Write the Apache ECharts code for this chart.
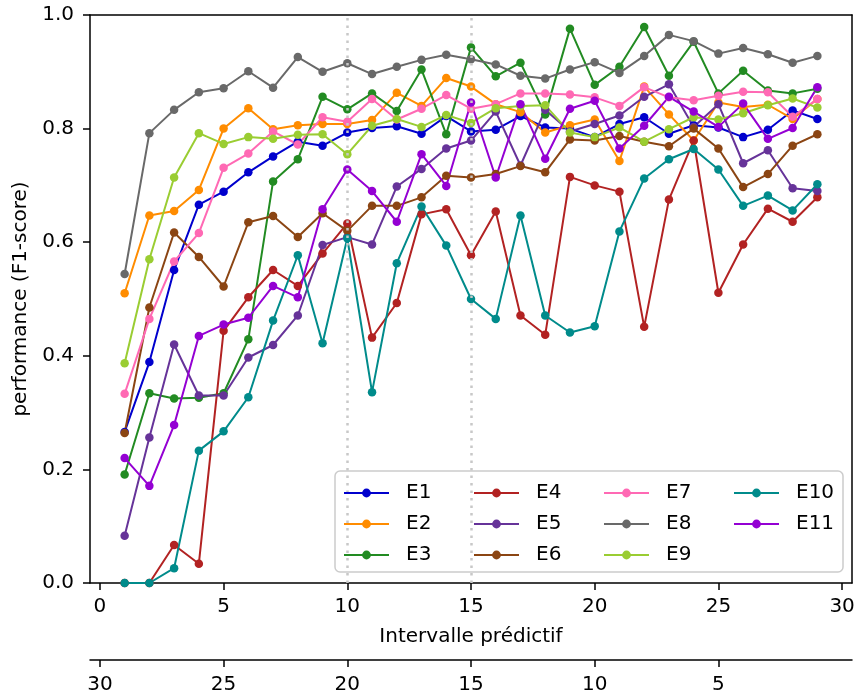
<!DOCTYPE html>
<html>
<head>
<meta charset="utf-8">
<script src="https://cdn.jsdelivr.net/npm/echarts@6/dist/echarts.min.js"></script>
<style>
  html, body { margin: 0; padding: 0; background: #fff; }
  #chart { width: 858px; height: 695px; }
</style>
</head>
<body>
<div id="chart"></div>
<script>
// Prediction interval (x) and F1-score per experiment
const intervals = [1, 2, 3, 4, 5, 6, 7, 8, 9, 10, 11, 12, 13, 14, 15, 16, 17, 18, 19, 20, 21, 22, 23, 24, 25, 26, 27, 28, 29];

const E1 = [0.266, 0.389, 0.551, 0.666, 0.689, 0.723, 0.751, 0.777, 0.770, 0.793, 0.801, 0.804, 0.791, 0.822, 0.795, 0.798, 0.822, 0.802, 0.800, 0.785, 0.808, 0.820, 0.791, 0.806, 0.802, 0.785, 0.798, 0.832, 0.817];
const E2 = [0.510, 0.647, 0.655, 0.692, 0.800, 0.836, 0.799, 0.806, 0.808, 0.808, 0.815, 0.863, 0.840, 0.889, 0.874, 0.843, 0.829, 0.793, 0.806, 0.816, 0.743, 0.874, 0.825, 0.779, 0.846, 0.838, 0.842, 0.817, 0.852];
const E3 = [0.191, 0.334, 0.325, 0.326, 0.334, 0.429, 0.707, 0.746, 0.856, 0.834, 0.862, 0.831, 0.904, 0.790, 0.943, 0.892, 0.916, 0.825, 0.976, 0.877, 0.909, 0.979, 0.893, 0.953, 0.862, 0.902, 0.867, 0.862, 0.870];
const E4 = [0.000, 0.000, 0.067, 0.034, 0.444, 0.503, 0.551, 0.523, 0.580, 0.633, 0.432, 0.493, 0.649, 0.658, 0.577, 0.654, 0.471, 0.437, 0.715, 0.700, 0.689, 0.451, 0.675, 0.779, 0.511, 0.596, 0.659, 0.636, 0.679];
const E5 = [0.083, 0.256, 0.420, 0.330, 0.330, 0.397, 0.419, 0.471, 0.595, 0.609, 0.596, 0.698, 0.729, 0.765, 0.779, 0.830, 0.735, 0.833, 0.795, 0.808, 0.823, 0.856, 0.878, 0.803, 0.843, 0.739, 0.762, 0.695, 0.690];
const E6 = [0.264, 0.485, 0.617, 0.574, 0.522, 0.635, 0.646, 0.609, 0.651, 0.620, 0.664, 0.664, 0.679, 0.717, 0.714, 0.720, 0.734, 0.723, 0.781, 0.779, 0.787, 0.777, 0.769, 0.800, 0.765, 0.697, 0.720, 0.770, 0.790];
const E7 = [0.333, 0.465, 0.566, 0.616, 0.731, 0.756, 0.795, 0.772, 0.820, 0.812, 0.852, 0.816, 0.835, 0.859, 0.835, 0.843, 0.862, 0.862, 0.860, 0.855, 0.840, 0.873, 0.855, 0.850, 0.858, 0.865, 0.864, 0.821, 0.852];
const E8 = [0.544, 0.792, 0.833, 0.864, 0.871, 0.901, 0.872, 0.926, 0.900, 0.915, 0.896, 0.909, 0.921, 0.930, 0.922, 0.913, 0.893, 0.888, 0.904, 0.917, 0.898, 0.928, 0.965, 0.954, 0.932, 0.942, 0.931, 0.916, 0.928];
const E9 = [0.387, 0.570, 0.714, 0.792, 0.773, 0.785, 0.782, 0.789, 0.790, 0.755, 0.805, 0.817, 0.803, 0.824, 0.810, 0.836, 0.840, 0.841, 0.793, 0.785, 0.802, 0.777, 0.799, 0.820, 0.816, 0.827, 0.841, 0.853, 0.837];
const E10 = [0.000, 0.000, 0.026, 0.233, 0.267, 0.327, 0.462, 0.577, 0.422, 0.607, 0.336, 0.563, 0.663, 0.594, 0.500, 0.465, 0.647, 0.471, 0.441, 0.452, 0.619, 0.712, 0.746, 0.764, 0.728, 0.664, 0.682, 0.656, 0.702];
const E11 = [0.220, 0.171, 0.278, 0.435, 0.455, 0.467, 0.523, 0.503, 0.658, 0.728, 0.690, 0.636, 0.755, 0.699, 0.846, 0.714, 0.843, 0.747, 0.835, 0.849, 0.765, 0.805, 0.856, 0.830, 0.803, 0.844, 0.782, 0.801, 0.873];

const seriesNames = ['E1', 'E2', 'E3', 'E4', 'E5', 'E6', 'E7', 'E8', 'E9', 'E10', 'E11'];
const seriesValues = [E1, E2, E3, E4, E5, E6, E7, E8, E9, E10, E11];
const seriesColors = ['#0000cd', '#ff8c00', '#228b22', '#b22222', '#663399', '#8b4513',
                      '#ff69b4', '#696969', '#9acd32', '#008b8b', '#9400d3'];

// Tick labels: lower axis shows interval, second axis shows remaining horizon
const xTicks = [0, 5, 10, 15, 20, 25, 30];
const horizonTicks = [0, 5, 10, 15, 20, 25];
const horizonTotal = 30;
const markedIntervals = [10, 15];
const legendColumns = [['E1', 'E2', 'E3'], ['E4', 'E5', 'E6'], ['E7', 'E8', 'E9'], ['E10', 'E11']];

const FONT = 'DejaVu Sans';
const FS = 20;
const black = '#000000';

const lineSeries = seriesNames.map((name, i) => ({
  name: name,
  type: 'line',
  xAxisIndex: 0,
  yAxisIndex: 0,
  data: intervals.map((x, k) => [x, seriesValues[i][k]]),
  symbol: 'circle',
  symbolSize: 8.5,
  showSymbol: true,
  color: seriesColors[i],
  lineStyle: { width: 2, color: seriesColors[i] },
  itemStyle: { color: seriesColors[i] },
  emphasis: { disabled: true },
  z: 2
}));

// Dotted reference lines drawn above the curves
lineSeries.push({
  name: 'ref',
  type: 'line',
  data: [],
  z: 3,
  silent: true,
  markLine: {
    symbol: 'none',
    silent: true,
    animation: false,
    label: { show: false },
    lineStyle: { color: '#c8c8c8', type: [2.5, 5], width: 2.5 },
    emphasis: { disabled: true },
    data: markedIntervals.map(v => ({ xAxis: v }))
  }
});

const legendBase = {
  orient: 'vertical',
  padding: 0,
  itemWidth: 45,
  itemHeight: 11,
  itemGap: 11,
  z: 6,
  selectedMode: false,
  textStyle: { fontFamily: FONT, fontSize: FS, color: black, lineHeight: 20, padding: [0, 0, 0, 12] }
};
const legendLefts = [343, 473, 603, 733];

const axisLineStyle = { color: black, width: 1.5 };

const option = {
  animation: false,
  backgroundColor: '#ffffff',
  grid: { left: 90, right: 6, top: 15, bottom: 112, containLabel: false },
  xAxis: [
    {
      type: 'value', position: 'bottom', min: -0.4, max: 30.4,
      axisLine: { show: true, onZero: false, lineStyle: axisLineStyle },
      axisTick: { show: true, length: 7, lineStyle: axisLineStyle, customValues: xTicks },
      axisLabel: { show: true, customValues: xTicks, fontFamily: FONT, fontSize: FS, color: black, margin: 14 },
      splitLine: { show: false },
      name: 'Intervalle prédictif', nameLocation: 'middle', nameGap: 44,
      nameTextStyle: { fontFamily: FONT, fontSize: FS, color: black }
    },
    {
      type: 'value', position: 'bottom', offset: 77, min: -0.4, max: 30.4,
      axisLine: { show: true, onZero: false, lineStyle: axisLineStyle },
      axisTick: { show: true, length: 7, lineStyle: axisLineStyle, customValues: horizonTicks },
      axisLabel: {
        show: true, customValues: horizonTicks, fontFamily: FONT, fontSize: FS, color: black, margin: 15,
        formatter: v => String(horizonTotal - v)
      },
      splitLine: { show: false }
    },
    {
      type: 'value', position: 'top', min: -0.4, max: 30.4,
      axisLine: { show: true, onZero: false, lineStyle: axisLineStyle },
      axisTick: { show: false }, axisLabel: { show: false }, splitLine: { show: false }
    }
  ],
  yAxis: [
    {
      type: 'value', position: 'left', min: 0, max: 1, interval: 0.2,
      axisLine: { show: true, onZero: false, lineStyle: axisLineStyle },
      axisTick: { show: true, length: 7, lineStyle: axisLineStyle },
      axisLabel: { fontFamily: FONT, fontSize: FS, color: black, margin: 16, formatter: v => v.toFixed(1) },
      splitLine: { show: false },
      name: 'performance (F1-score)', nameLocation: 'middle', nameGap: 54,
      nameTextStyle: { fontFamily: FONT, fontSize: FS, color: black }
    },
    {
      type: 'value', position: 'right', min: 0, max: 1,
      axisLine: { show: true, onZero: false, lineStyle: axisLineStyle },
      axisTick: { show: false }, axisLabel: { show: false }, splitLine: { show: false }
    }
  ],
  legend: legendColumns.map((names, c) => Object.assign({}, legendBase, {
    left: legendLefts[c], top: 483, data: names
  })),
  graphic: [{
    type: 'rect',
    z: 5,
    silent: true,
    shape: { x: 335, y: 471, width: 508, height: 101, r: 5 },
    style: { fill: 'rgba(255,255,255,0.8)', stroke: '#cccccc', lineWidth: 1.5 }
  }],
  series: lineSeries
};

const chart = echarts.init(document.getElementById('chart'), null, { renderer: 'canvas' });
chart.setOption(option);
</script>
</body>
</html>
